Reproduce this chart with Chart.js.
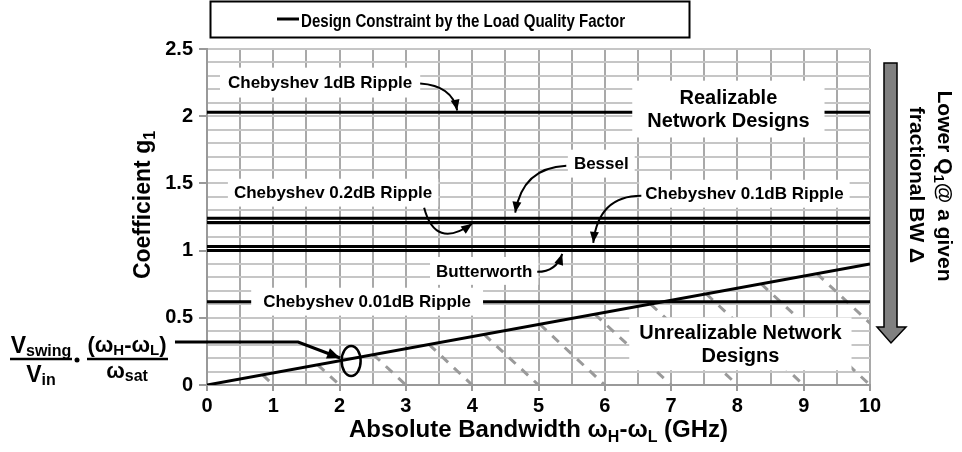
<!DOCTYPE html>
<html>
<head>
<meta charset="utf-8">
<script src="https://cdn.jsdelivr.net/npm/chart.js@4.4.1/dist/chart.umd.min.js"></script>
<style>
    html, body { margin: 0; padding: 0; background: #fff; }
    #wrap { width: 962px; height: 452px; }
</style>
</head>
<body>
<div id="wrap"><canvas id="myChart" width="962" height="452"></canvas></div>
<script>
(function () {
    'use strict';

    // load quality factor constraint (straight line through the origin)
    var bandwidthGHz = [0, 10];
    var constraintG1 = [0, 0.9];

    // g1 of each filter prototype
    var filterNames = ['Chebyshev 1dB Ripple', 'Bessel', 'Chebyshev 0.2dB Ripple',
        'Chebyshev 0.1dB Ripple', 'Butterworth', 'Chebyshev 0.01dB Ripple'];
    var filterG1 = [2.03, 1.24, 1.21, 1.03, 1.0, 0.62];

    // hatching of the unrealizable region: from the constraint line down to the axis
    var hatchTopX = [0.84, 1.67, 2.51, 3.35, 4.18, 5.02, 5.85, 6.69, 7.53, 8.36, 9.2];
    var hatchTopY = [0.075, 0.15, 0.226, 0.301, 0.376, 0.452, 0.527, 0.602, 0.678, 0.752, 0.828];
    var hatchBaseX = [1, 2, 3, 4, 5, 6, 7, 8, 9, 10, 11];

    var xTickLabels = [0, 1, 2, 3, 4, 5, 6, 7, 8, 9, 10];
    var yTickLabels = [0, 0.5, 1, 1.5, 2, 2.5];

    var FONT = '"Liberation Sans", Arial, Helvetica, sans-serif';

    function bold(size) {
        return 'bold ' + size + 'px ' + FONT;
    }

    function isLabelled(list, v) {
        return list.some(function (t) { return Math.abs(t - v) < 1e-6; });
    }

    // labels written in the plot (data coordinates of their centres)
    var notes = [
        { lines: [filterNames[0]], x: 1.706, y: 2.25, size: 17, padX: 8, padY: 5 },
        { lines: ['Realizable', 'Network Designs'], x: 7.864, y: 2.053, size: 20, padX: 15, padY: 5 },
        { lines: [filterNames[1]], x: 5.947, y: 1.647, size: 17, padX: 6, padY: 4 },
        { lines: [filterNames[2]], x: 1.902, y: 1.431, size: 17, padX: 6, padY: 4 },
        { lines: [filterNames[3]], x: 8.106, y: 1.423, size: 17, padX: 6, padY: 4 },
        { lines: [filterNames[4]], x: 4.181, y: 0.849, size: 17, padX: 6, padY: 4 },
        { lines: [filterNames[5]], x: 2.415, y: 0.62, size: 17, padX: 12, padY: 4 },
        { lines: ['Unrealizable Network', 'Designs'], x: 8.045, y: 0.306, size: 20, padX: 10, padY: 3 }
    ];

    var arrows = [
        { from: [3.215, 2.243], ctrl: [3.698, 2.228], to: [3.774, 2.042] },
        { from: [5.419, 1.632], ctrl: [4.755, 1.617], to: [4.649, 1.282] },
        { from: [3.275, 1.319], ctrl: [3.442, 1.006], to: [4.0, 1.2] },
        { from: [6.551, 1.408], ctrl: [5.902, 1.408], to: [5.826, 1.058] },
        { from: [4.981, 0.842], ctrl: [5.268, 0.842], to: [5.358, 0.976] }
    ];

    var pointer = [[-0.483, 0.32], [1.374, 0.32], [2.008, 0.201]];
    var marker = { x: 2.174, y: 0.179 };

    function richWidth(ctx, segs) {
        var w = 0;
        segs.forEach(function (s) {
            ctx.font = bold(s[1]);
            w += ctx.measureText(s[0]).width;
        });
        return w;
    }

    function drawRich(ctx, segs, x, y) {
        var cx = x - richWidth(ctx, segs) / 2;
        ctx.textAlign = 'left';
        ctx.textBaseline = 'alphabetic';
        segs.forEach(function (s) {
            ctx.font = bold(s[1]);
            ctx.fillText(s[0], cx, y + (s[2] || 0));
            cx += ctx.measureText(s[0]).width;
        });
    }

    function arrowHead(ctx, fx, fy, tx, ty, len, wid) {
        var a = Math.atan2(ty - fy, tx - fx);
        var bx = tx - len * Math.cos(a), by = ty - len * Math.sin(a);
        ctx.beginPath();
        ctx.moveTo(tx, ty);
        ctx.lineTo(bx + wid / 2 * Math.sin(a), by - wid / 2 * Math.cos(a));
        ctx.lineTo(bx - wid / 2 * Math.sin(a), by + wid / 2 * Math.cos(a));
        ctx.closePath();
        ctx.fill();
    }

    var overlay = {
        id: 'overlay',
        afterDatasetsDraw: function (chart) {
            var ctx = chart.ctx;
            var xs = chart.scales.x, ys = chart.scales.y;
            var px = function (v) { return xs.getPixelForValue(v); };
            var py = function (v) { return ys.getPixelForValue(v); };

            ctx.save();
            ctx.fillStyle = '#000';
            ctx.strokeStyle = '#000';

            // label boxes
            notes.forEach(function (n) {
                ctx.font = bold(n.size);
                var w = Math.max.apply(null, n.lines.map(function (l) { return ctx.measureText(l).width; }));
                var lh = n.size * 1.17;
                var h = n.lines.length * lh;
                var cx = px(n.x), cy = py(n.y);
                ctx.fillStyle = '#fff';
                ctx.fillRect(cx - w / 2 - n.padX, cy - h / 2 - n.padY, w + 2 * n.padX, h + 2 * n.padY);
                ctx.fillStyle = '#000';
                ctx.textAlign = 'center';
                ctx.textBaseline = 'middle';
                n.lines.forEach(function (l, i) {
                    ctx.fillText(l, cx, cy - h / 2 + lh * (i + 0.5) + 1);
                });
            });

            // curved arrows
            ctx.lineWidth = 2;
            arrows.forEach(function (a) {
                var fx = px(a.from[0]), fy = py(a.from[1]);
                var qx = px(a.ctrl[0]), qy = py(a.ctrl[1]);
                var tx = px(a.to[0]), ty = py(a.to[1]);
                ctx.beginPath();
                ctx.moveTo(fx, fy);
                ctx.quadraticCurveTo(qx, qy, tx, ty);
                ctx.stroke();
                arrowHead(ctx, qx, qy, tx, ty, 11, 9);
            });

            // pointer from the formula to the marked point
            ctx.lineWidth = 3;
            ctx.beginPath();
            pointer.forEach(function (p, i) {
                if (i === 0) { ctx.moveTo(px(p[0]), py(p[1])); } else { ctx.lineTo(px(p[0]), py(p[1])); }
            });
            ctx.stroke();
            var last = pointer[pointer.length - 1], prev = pointer[pointer.length - 2];
            arrowHead(ctx, px(prev[0]), py(prev[1]), px(last[0]), py(last[1]), 13, 11);

            ctx.lineWidth = 2.5;
            ctx.beginPath();
            ctx.ellipse(px(marker.x), py(marker.y), 9.5, 15, 0, 0, Math.PI * 2);
            ctx.stroke();

            // formula on the left
            drawRich(ctx, [['V', 23], ['swing', 16, 3]], 41, 353);
            drawRich(ctx, [['V', 23], ['in', 16, 3]], 41, 382);
            drawRich(ctx, [['(ω', 22], ['H', 15, 3], ['-ω', 22], ['L', 15, 3], [')', 22]], 127, 352);
            drawRich(ctx, [['ω', 22], ['sat', 16, 3]], 127, 378);
            ctx.lineWidth = 2.5;
            ctx.beginPath();
            ctx.moveTo(10, 359); ctx.lineTo(72, 359);
            ctx.moveTo(87, 359); ctx.lineTo(168, 359);
            ctx.stroke();
            ctx.beginPath();
            ctx.arc(77, 360, 2.5, 0, Math.PI * 2);
            ctx.fill();

            // axis titles
            drawRich(ctx, [['Absolute Bandwidth ω', 24], ['H', 16, 5], ['-ω', 24], ['L', 16, 5], [' (GHz)', 24]],
                (chart.chartArea.left + chart.chartArea.right) / 2, 437);

            ctx.save();
            ctx.translate(150, 205);
            ctx.rotate(-Math.PI / 2);
            drawRich(ctx, [['Coefficient g', 23], ['1', 16, 5]], 0, 0);
            ctx.restore();

            // legend box
            ctx.lineWidth = 2;
            ctx.strokeRect(210.5, 1.5, 479, 36);
            ctx.lineWidth = 3;
            ctx.beginPath();
            ctx.moveTo(277, 19);
            ctx.lineTo(299, 19);
            ctx.stroke();
            ctx.save();
            ctx.font = bold(19);
            var legendText = 'Design Constraint by the Load Quality Factor';
            var lw = ctx.measureText(legendText).width;
            ctx.translate(301, 27);
            ctx.scale(324 / lw, 1);
            ctx.textAlign = 'left';
            ctx.textBaseline = 'alphabetic';
            ctx.fillText(legendText, 0, 0);
            ctx.restore();

            // big arrow on the right
            ctx.beginPath();
            ctx.moveTo(884, 63);
            ctx.lineTo(897, 63);
            ctx.lineTo(897, 327);
            ctx.lineTo(906, 327);
            ctx.lineTo(891, 343);
            ctx.lineTo(877, 327);
            ctx.lineTo(884, 327);
            ctx.closePath();
            ctx.fillStyle = '#808080';
            ctx.fill();
            ctx.lineWidth = 1.5;
            ctx.stroke();
            ctx.fillStyle = '#000';

            ctx.save();
            ctx.translate(938, 186);
            ctx.rotate(Math.PI / 2);
            drawRich(ctx, [['Lower Q', 21], ['1', 15, 4], ['@ a given', 21]], 0, 0);
            ctx.restore();
            ctx.save();
            ctx.translate(910, 185);
            ctx.rotate(Math.PI / 2);
            drawRich(ctx, [['fractional BW Δ', 21]], 0, 0);
            ctx.restore();

            ctx.restore();
        }
    };

    var datasets = [];

    datasets.push({
        label: 'Design Constraint by the Load Quality Factor',
        data: bandwidthGHz.map(function (x, i) { return { x: x, y: constraintG1[i] }; }),
        borderColor: '#000',
        borderWidth: 3,
        order: 1
    });

    filterG1.forEach(function (g, i) {
        datasets.push({
            label: filterNames[i],
            data: [{ x: bandwidthGHz[0], y: g }, { x: bandwidthGHz[1], y: g }],
            borderColor: '#000',
            borderWidth: 3,
            order: 2
        });
    });

    hatchBaseX.forEach(function (bx, i) {
        datasets.push({
            label: 'hatch',
            data: [{ x: hatchTopX[i], y: hatchTopY[i] }, { x: bx, y: 0 }],
            borderColor: '#9a9a9a',
            borderWidth: 3,
            borderDash: [9, 8],
            order: 5
        });
    });

    datasets.forEach(function (d) {
        d.showLine = true;
        d.pointRadius = 0;
        d.fill = false;
    });

    new Chart(document.getElementById('myChart'), {
        type: 'scatter',
        data: { datasets: datasets },
        options: {
            responsive: false,
            animation: false,
            layout: { padding: { left: 147, right: 92, top: 49, bottom: 0 } },
            plugins: {
                legend: { display: false },
                tooltip: { enabled: false }
            },
            scales: {
                x: {
                    type: 'linear',
                    min: 0,
                    max: 10,
                    afterFit: function (s) { s.height = 67; },
                    ticks: {
                        stepSize: 0.5,
                        autoSkip: false,
                        maxRotation: 0,
                        padding: 3,
                        color: '#000',
                        font: { family: FONT, size: 20, weight: 'bold' },
                        callback: function (v) {
                            return isLabelled(xTickLabels, v) ? String(Math.round(v)) : '';
                        }
                    },
                    grid: {
                        color: '#a9a9a9',
                        lineWidth: 2,
                        tickLength: 6,
                        tickColor: function (c) {
                            return c.tick && isLabelled(xTickLabels, c.tick.value) ? '#999' : 'rgba(0,0,0,0)';
                        }
                    },
                    border: { display: true, color: '#999', width: 2 }
                },
                y: {
                    type: 'linear',
                    min: 0,
                    max: 2.5,
                    afterFit: function (s) { s.width = 60; },
                    ticks: {
                        stepSize: 0.1,
                        autoSkip: false,
                        padding: 6,
                        color: '#000',
                        font: { family: FONT, size: 20, weight: 'bold' },
                        callback: function (v) {
                            return isLabelled(yTickLabels, v) ? String(Math.round(v * 2) / 2) : '';
                        }
                    },
                    grid: {
                        color: '#c6c6c6',
                        lineWidth: 2,
                        tickLength: 8,
                        tickColor: function (c) {
                            return c.tick && isLabelled(yTickLabels, c.tick.value) ? '#999' : 'rgba(0,0,0,0)';
                        }
                    },
                    border: { display: true, color: '#999', width: 2 }
                }
            }
        },
        plugins: [overlay]
    });
})();
</script>
</body>
</html>
